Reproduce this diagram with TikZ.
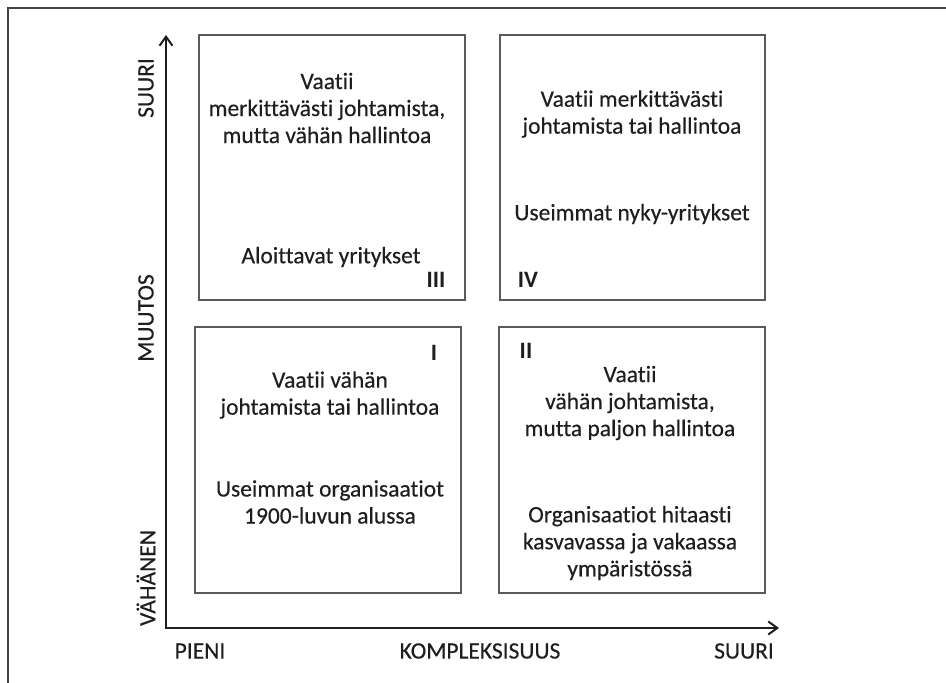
\documentclass[tikz,border=0pt]{standalone}
\usepackage{fontspec}
\setmainfont{Carlito}[Ligatures=NoCommon,FakeBold=0.35,BoldFeatures={FakeBold=0}]
\usetikzlibrary{arrows.meta}
\definecolor{ink}{HTML}{1E1E1E}
\definecolor{boxline}{HTML}{5A5A5A}
\definecolor{frameline}{HTML}{444444}
\begin{document}
\begin{tikzpicture}[x=1pt,y=-1pt,
  txt/.style={text=ink,align=center,inner sep=0pt,font=\fontsize{23.5}{27}\selectfont},
  roman/.style={text=ink,inner sep=0pt,font=\fontsize{23.5}{27}\selectfont\bfseries},
  quad/.style={draw=boxline,line width=1.2pt},
  axis/.style={draw=ink,line width=2.4pt,
    {Straight Barb[length=9pt,width=13pt,line width=2pt]}-{Straight Barb[length=9pt,width=13pt,line width=2pt]}}]
  \useasboundingbox (0,0) rectangle (946,683);
  % open frame: only the top and left sides lie inside the page
  \draw[frameline,line width=1.3pt] (8,683) -- (8,8) -- (946,8);

  % the four quadrants
  \draw[quad] (199,35) rectangle (465,300);
  \draw[quad] (500,35) rectangle (765,300);
  \draw[quad] (195,327) rectangle (461,593);
  \draw[quad] (499,327) rectangle (765,593);

  % axes
  \coordinate (origin) at (166,628);
  \coordinate (ytip) at (166,35);
  \coordinate (xtip) at (779,628);
  \draw[axis] (ytip) -- (origin) -- (xtip);

  % axis labels
  \node[txt,rotate=90] (ysuuri) at (146,88) {SUURI};
  \node[txt,rotate=90] (ymuutos) at (146,318) {MUUTOS};
  \node[txt,rotate=90] (yvahanen) at (146,578) {VÄHÄNEN};
  \node[txt] (xpieni) at (200,651) {PIENI};
  \node[txt] (xkomp) at (480,651) {KOMPLEKSISUUS};
  \node[txt] (xsuuri) at (744,651) {SUURI};

  % quadrant III
  \node[txt] (t3a) at (327,108) {Vaatii\\merkittävästi johtamista,\\mutta vähän hallintoa};
  \node[txt] (t3b) at (331,257) {Aloittavat yritykset};
  \node[roman] (r3) at (436,280) {III};

  % quadrant IV
  \node[txt] (t4a) at (632,114) {Vaatii merkittävästi\\johtamista tai hallintoa};
  \node[txt] (t4b) at (632,214) {Useimmat nyky-yritykset};
  \node[roman] (r4) at (528,280) {IV};

  % quadrant I
  \node[txt] (t1a) at (330,395) {Vaatii vähän\\johtamista tai hallintoa};
  \node[txt] (t1b) at (330,502) {Useimmat organisaatiot\\1900-luvun alussa};
  \node[roman] (r1) at (434,353) {I};

  % quadrant II
  \node[txt] (t2a) at (630,403) {Vaatii\\vähän johtamista,\\mutta paljon hallintoa};
  \node[txt] (t2b) at (630,543) {Organisaatiot hitaasti\\kasvavassa ja vakaassa\\ympäristössä};
  \node[roman] (r2) at (526,351) {II};
\end{tikzpicture}
\end{document}
